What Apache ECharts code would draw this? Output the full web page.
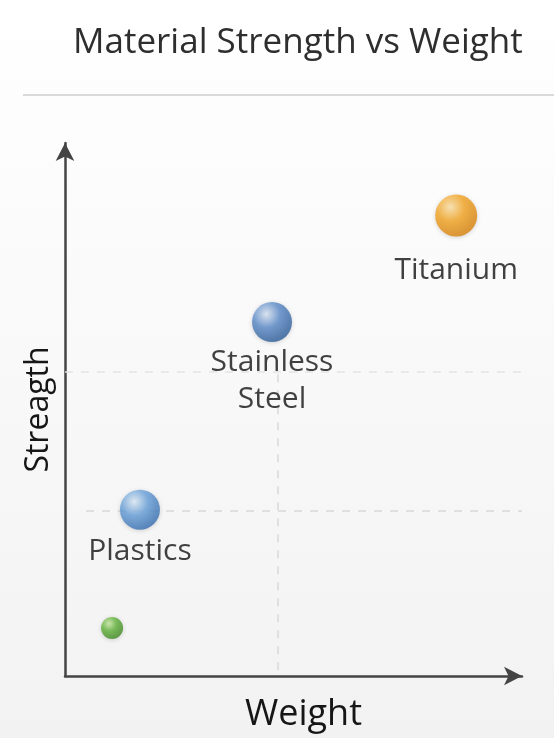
<!DOCTYPE html>
<html>
<head>
<meta charset="utf-8">
<title>Material Strength vs Weight</title>
<script src="https://cdn.jsdelivr.net/npm/echarts@6/dist/echarts.min.js"></script>
<style>
  html, body { margin: 0; padding: 0; background: #fff; }
  #chart { width: 554px; height: 738px; }
</style>
</head>
<body>
<div id="chart"></div>
<script>
// values, on a 0-100 scale for both axes
const materials = ['Titanium', 'Stainless\nSteel', 'Plastics', '']
const weight = [85.6, 45.3, 16.4, 10.3]
const strength = [86.4, 66.4, 31.2, 9.0]

// dashed reference lines
const guideWeight = 46.6
const guideStrength = [57.0, 31.0]

// ball look: [highlight, body, rim]
const ballColors = [
  ['#ffe3a8', '#f6a623', '#d8810b'],
  ['#dbe7f6', '#5c8ccb', '#2c5a98'],
  ['#e2eefa', '#69a2dc', '#356db0'],
  ['#c9eba3', '#63b43b', '#3e8722']
]
const ballSizes = [42, 40, 40, 22]
const labelGaps = [15, 2, 3, 0]

const font = 'Open Sans'

function ball(c) {
  return new echarts.graphic.RadialGradient(0.36, 0.3, 0.75, [
    { offset: 0, color: c[0] },
    { offset: 0.45, color: c[1] },
    { offset: 1, color: c[2] }
  ])
}

const chart = echarts.init(document.getElementById('chart'))

const points = materials.map((name, i) => ({
  name: name,
  value: [weight[i], strength[i]],
  symbolSize: ballSizes[i],
  itemStyle: { color: ball(ballColors[i]) },
  label: { show: name !== '', distance: labelGaps[i] }
}))

const dashed = { color: '#d9d9d9', width: 1.5, type: [8, 8] }

chart.setOption({
  backgroundColor: new echarts.graphic.LinearGradient(0, 0, 0, 1, [
    { offset: 0, color: '#ffffff' },
    { offset: 1, color: '#f2f2f2' }
  ]),
  title: {
    text: 'Material Strength vs Weight',
    left: 73,
    top: 26,
    padding: 0,
    textStyle: { fontFamily: font, fontSize: 35, fontWeight: 'normal', color: '#2e2e2e' }
  },
  graphic: [{
    type: 'line',
    shape: { x1: 23, y1: 95, x2: 554, y2: 95 },
    style: { stroke: '#cccccc', lineWidth: 1.5 },
    silent: true
  }],
  grid: { left: 65, right: 32, top: 143, bottom: 62 },
  xAxis: {
    type: 'value',
    min: 0,
    max: 100,
    name: 'Weight',
    nameLocation: 'middle',
    nameGap: 21,
    nameTextStyle: { fontFamily: font, fontSize: 36, color: '#161616', padding: [0, 0, 0, 20] },
    axisLine: { lineStyle: { color: '#444', width: 2.5 }, symbol: ['none', 'arrow'], symbolSize: [14, 18] },
    axisTick: { show: false },
    axisLabel: { show: false },
    splitLine: { show: false }
  },
  yAxis: {
    type: 'value',
    min: 0,
    max: 100,
    name: 'Streagth',
    nameLocation: 'middle',
    nameRotate: 90,
    nameGap: 10,
    nameTextStyle: { fontFamily: font, fontSize: 32, color: '#161616' },
    axisLine: { lineStyle: { color: '#444', width: 2.5 }, symbol: ['none', 'arrow'], symbolSize: [14, 18] },
    axisTick: { show: false },
    axisLabel: { show: false },
    splitLine: { show: false }
  },
  series: [{
    type: 'scatter',
    data: points,
    itemStyle: { shadowBlur: 4, shadowColor: 'rgba(0,0,0,0.2)', shadowOffsetY: 1 },
    label: {
      position: 'bottom',
      formatter: '{b}',
      fontFamily: font,
      fontSize: 30,
      lineHeight: 37,
      color: '#111'
    },
    markLine: {
      silent: true,
      z: 1,
      symbol: 'none',
      label: { show: false },
      lineStyle: dashed,
      data: [
        [{ coord: [guideWeight, 1.1] }, { coord: [guideWeight, guideStrength[0]] }],
        { yAxis: guideStrength[0], lineStyle: { color: '#e4e4e4' } },
        [{ coord: [4.6, guideStrength[1]] }, { coord: [100, guideStrength[1]] }]
      ]
    },
    z: 3
  }]
})
</script>
</body>
</html>
